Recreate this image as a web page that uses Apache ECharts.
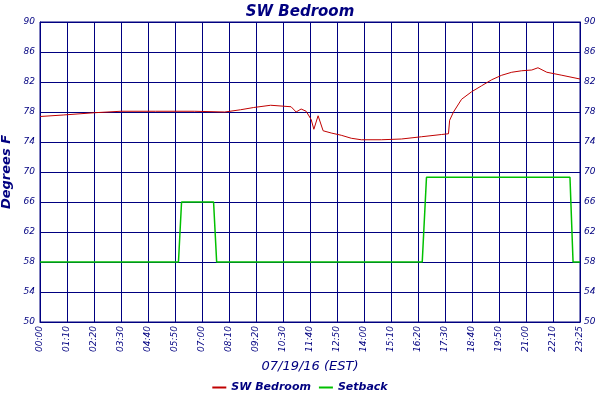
<!DOCTYPE html>
<html><head><meta charset="utf-8">
<script src="https://cdn.jsdelivr.net/npm/echarts@6/dist/echarts.min.js"></script>
<style>html,body{margin:0;padding:0;background:#fff}#c{width:600px;height:400px}</style>
</head><body><div id="c"></div>
<script>
const tempMinutes = [0,60,140,210,300,400,479,520,554,598,651,664,677,690,703,710,721,734,755,781,807,833,885,937,989,1041,1059,1062,1072,1093,1119,1145,1171,1197,1223,1249,1275,1291,1314,1353,1400];
const tempValues  = [77.4,77.6,77.9,78.1,78.1,78.1,78.0,78.3,78.6,78.9,78.7,78.0,78.4,78.1,77.0,75.7,77.5,75.5,75.2,74.9,74.5,74.3,74.3,74.4,74.7,75.0,75.1,76.9,78.0,79.7,80.7,81.5,82.3,82.9,83.3,83.5,83.6,83.9,83.3,82.9,82.4];
const setMinutes  = [0,359,367,450,458,991,1002,1374,1382,1400];
const setValues   = [58,58,66,66,58,58,69.3,69.3,58,58];
const yTicks = [50,54,58,62,66,70,74,78,82,86,90];

const navy='#000080';
function hm(v){ if(v>=1400) return '23:25'; const h=Math.floor(v/60),m=v%60; return String(h).padStart(2,'0')+':'+String(m).padStart(2,'0'); }
const font='Verdana, "DejaVu Sans", sans-serif';
const chart=echarts.init(document.getElementById('c'));
chart.setOption({
  animation:false,
  title:{text:'SW Bedroom',left:'center',top:0,textStyle:{color:navy,fontStyle:'italic',fontWeight:'bold',fontSize:15,fontFamily:font}},
  grid:{left:40,right:20,top:22,bottom:78,show:true,borderColor:navy,borderWidth:1,containLabel:false,outerBoundsMode:'none'},
  legend:{bottom:2,left:'center',itemWidth:14,itemHeight:2,icon:'rect',textStyle:{color:navy,fontStyle:'italic',fontWeight:'bold',fontSize:11,fontFamily:font},data:['SW Bedroom','Setback']},
  xAxis:{type:'value',min:0,max:1400,interval:70,name:'07/19/16 (EST)',nameLocation:'middle',nameGap:30,
    nameTextStyle:{color:navy,fontStyle:'italic',fontSize:13,fontFamily:font},
    axisLine:{lineStyle:{color:navy}},axisTick:{show:false},
    splitLine:{lineStyle:{color:navy,width:1}},
    axisLabel:{rotate:90,color:navy,fontStyle:'italic',fontSize:9,fontFamily:font,formatter:hm,margin:4}},
  yAxis:[
    {type:'value',min:50,max:90,interval:4,name:'Degrees F',nameLocation:'middle',nameGap:26,
     nameTextStyle:{color:navy,fontStyle:'italic',fontWeight:'bold',fontSize:13,fontFamily:font},
     axisLine:{show:true,lineStyle:{color:navy}},axisTick:{show:false},
     splitLine:{lineStyle:{color:navy,width:1}},
     axisLabel:{color:navy,fontStyle:'italic',fontSize:9,fontFamily:font,margin:5,formatter:v=>yTicks.includes(v)?String(v):''}},
    {type:'value',min:50,max:90,interval:4,position:'right',
     axisLine:{show:true,lineStyle:{color:navy}},axisTick:{show:false},splitLine:{show:false},
     axisLabel:{color:navy,fontStyle:'italic',fontSize:9,fontFamily:font,margin:4}}
  ],
  series:[
    {name:'SW Bedroom',type:'line',showSymbol:false,symbol:'none',data:tempMinutes.map((m,i)=>[m,tempValues[i]]),lineStyle:{color:'#c00000',width:1},itemStyle:{color:'#c00000'}},
    {name:'Setback',type:'line',showSymbol:false,symbol:'none',data:setMinutes.map((m,i)=>[m,setValues[i]]),lineStyle:{color:'#00c000',width:1.5},itemStyle:{color:'#00c000'}}
  ]
});
</script></body></html>
